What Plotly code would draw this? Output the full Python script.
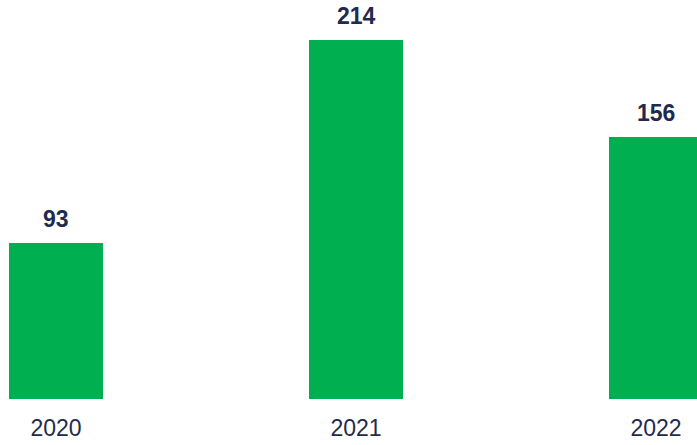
import plotly.graph_objects as go

years = ["2020", "2021", "2022"]
values = [93, 214, 156]

BAR_COLOR = "#00B050"
TEXT_COLOR = "#1F2B4C"
FONT = "Liberation Sans, Arial, sans-serif"

fig = go.Figure()
fig.add_trace(go.Bar(
    x=years, y=values,
    marker=dict(color=BAR_COLOR, line=dict(width=0)),
    width=0.313,
    hoverinfo="skip",
))

for i, v in enumerate(values):
    fig.add_annotation(
        x=i, y=v, xref="x", yref="y", text=f"<b>{v}</b>", showarrow=False,
        yanchor="bottom", yshift=9,
        font=dict(family=FONT, size=23, color=TEXT_COLOR),
    )

fig.update_layout(
    width=697, height=445,
    margin=dict(l=0, r=0, t=0, b=46),
    paper_bgcolor="white", plot_bgcolor="white",
    showlegend=False,
    bargap=0,
    font=dict(family=FONT, size=23, color=TEXT_COLOR),
)
fig.update_xaxes(
    type="category", range=[-0.1867, 2.1367],
    showgrid=False, zeroline=False, showline=False,
    ticks="outside", ticklen=8, tickcolor="rgba(0,0,0,0)",
    tickfont=dict(family=FONT, size=23, color=TEXT_COLOR),
)
fig.update_yaxes(
    range=[0, 237.9], visible=False, showgrid=False, zeroline=False,
)

fig.write_html(
    "out.html",
    config={"displayModeBar": False},
    post_script="document.body.style.margin='0';document.body.style.overflow='hidden';",
)
